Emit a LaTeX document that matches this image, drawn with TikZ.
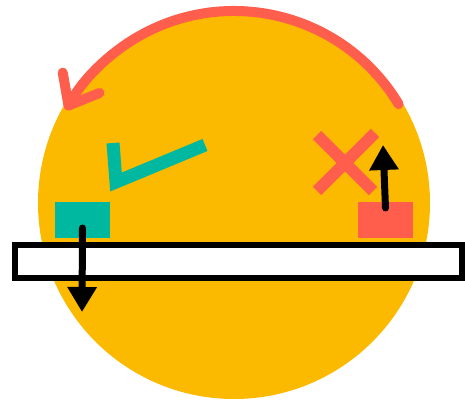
\documentclass[tikz,border=0pt]{standalone}
\usetikzlibrary{arrows.meta,positioning,shapes}
\definecolor{sunamber}{RGB}{251,186,0}
\definecolor{markred}{RGB}{255,94,77}
\definecolor{markteal}{RGB}{0,184,159}

\begin{document}
\begin{tikzpicture}[x=1pt,y=1pt,
        blk/.style={minimum width=55pt,minimum height=36pt,inner sep=0pt},
        push/.style={line width=7pt,line cap=round,-{Triangle[length=25pt,width=28pt]}}]
      \useasboundingbox (0,0) rectangle (465,399);
      \node[circle,fill=sunamber,minimum size=392pt,inner sep=0pt] (disc) at (234,196) {};
      % turning arrow over the top
      \coordinate (turnA) at ([shift={(31:192)}]disc.center);
      \draw[markred,line width=10pt,line cap=round,-{Straight Barb[length=26pt,width=42pt,round]}]
        (turnA) arc[start angle=31,end angle=151,radius=192];
      % tick and cross
      \draw[markteal,line width=13pt] (113,256) -- (116,217) -- (205,254);
      \node (cross) at (345,236) {};
      \draw[markred,line width=12pt] ([shift={(-28,28)}]cross.center) -- ([shift={(28,-28)}]cross.center);
      \draw[markred,line width=12pt] ([shift={(-28,-28)}]cross.center) -- ([shift={(30,30)}]cross.center);
      \node[blk,fill=markteal] (okbox) at (82.5,179) {};
      \node[blk,fill=markred]  (nobox) at (385.5,179) {};
      \node[draw,line width=6pt,fill=white,minimum width=447pt,minimum height=33pt,inner sep=0pt] (bar) at (238.5,137.5) {};
      \coordinate (downtip) at (82,87);
      \coordinate (uptip) at (383,254);
      \draw[push] ([yshift=-8pt]okbox.center) -- (downtip);
      \draw[push] ([yshift=12pt]nobox.center) -- (uptip);
    \end{tikzpicture}
\end{document}
